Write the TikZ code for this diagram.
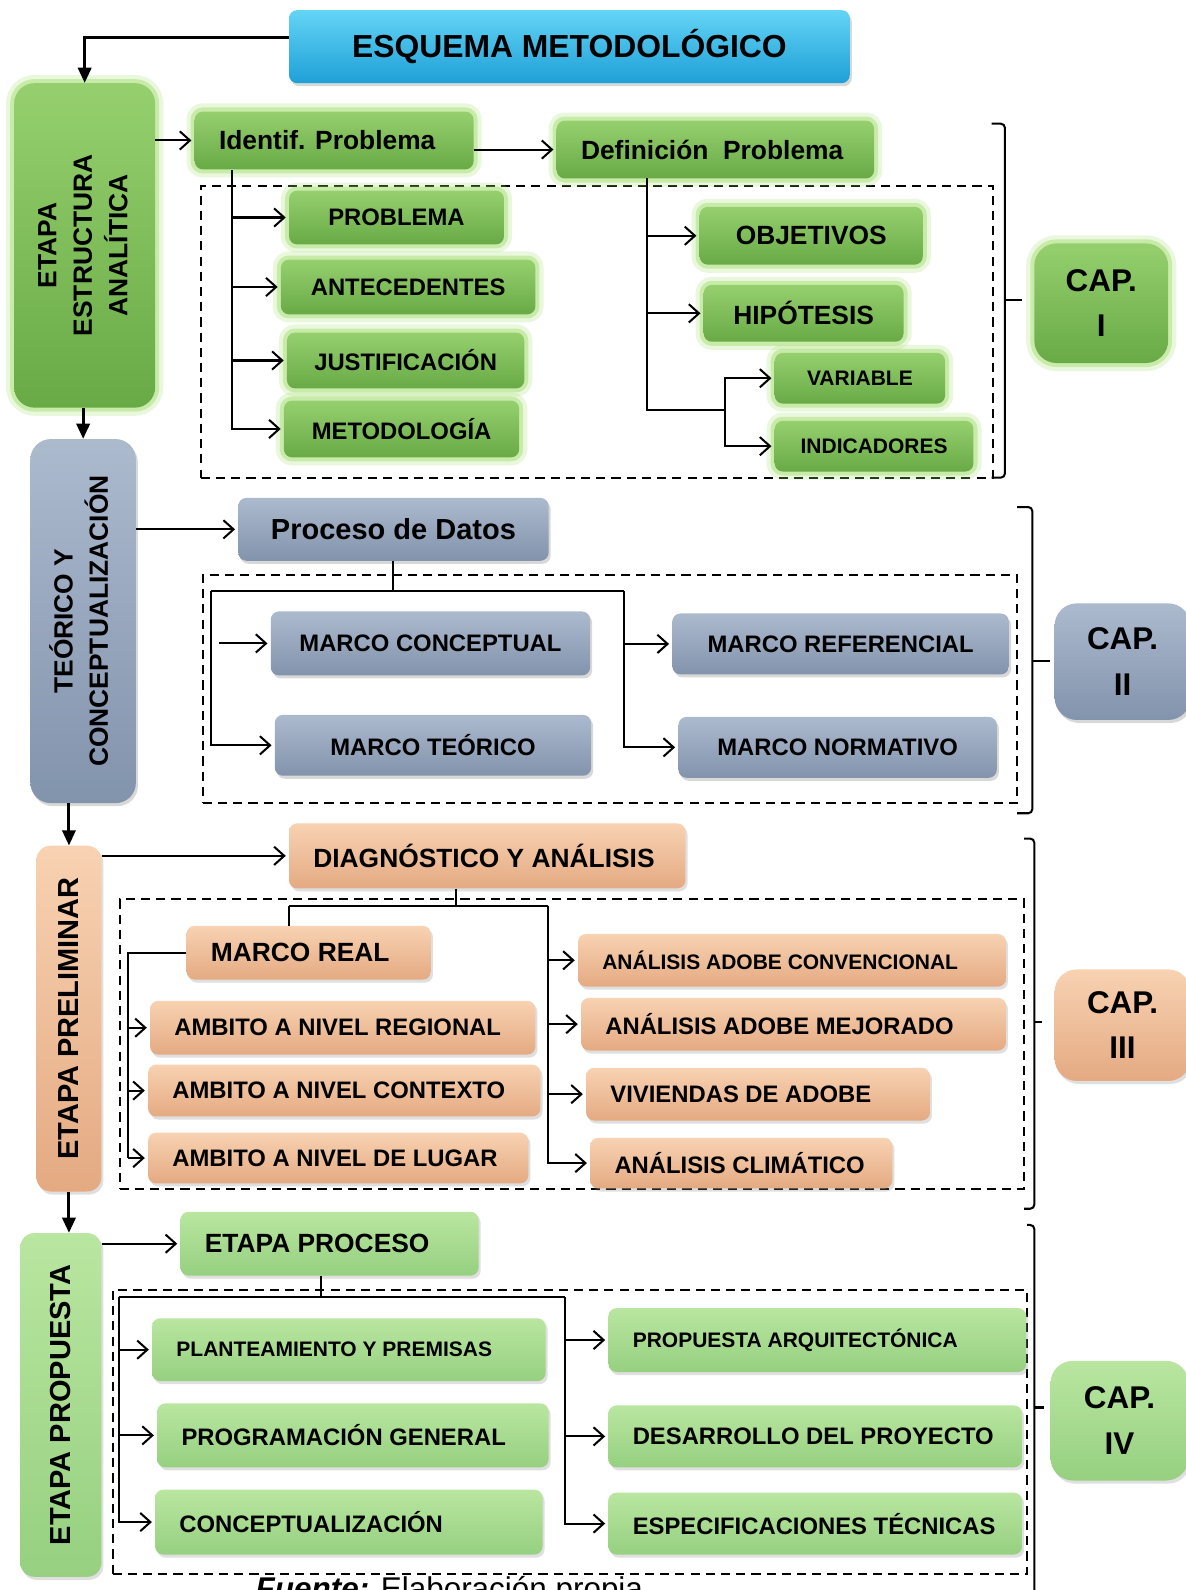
\documentclass[tikz,border=0pt]{standalone}
\usepackage{fontspec}
\usepackage{graphicx}
\setmainfont{Liberation Sans}
\usetikzlibrary{arrows.meta,shadows}

\definecolor{azulA}{RGB}{100,212,245}
\definecolor{azulB}{RGB}{30,160,215}
\definecolor{verdeA}{RGB}{150,208,110}
\definecolor{verdeB}{RGB}{104,170,70}
\definecolor{verdeGlow}{RGB}{170,225,120}
\definecolor{grisA}{RGB}{172,186,206}
\definecolor{grisB}{RGB}{130,147,172}
\definecolor{salmonA}{RGB}{248,210,178}
\definecolor{salmonB}{RGB}{228,170,130}
\definecolor{pastoA}{RGB}{185,230,160}
\definecolor{pastoB}{RGB}{150,208,128}

\newcommand{\letraTit}{\fontsize{31.4}{36}\selectfont\bfseries}
\newcommand{\letraX}{\fontsize{28.6}{34}\selectfont\bfseries}
\newcommand{\letraG}{\fontsize{26}{30}\selectfont\bfseries}
\newcommand{\letraM}{\fontsize{23.5}{28}\selectfont\bfseries}
\newcommand{\letraC}{\fontsize{20.7}{25}\selectfont\bfseries}
\newcommand{\letraLado}{\fontsize{26}{35}\selectfont\bfseries}
\newcommand{\letraCap}{\fontsize{31}{45}\selectfont\bfseries}
\newcommand{\izq}[2]{\makebox[#1][l]{#2}}

\begin{document}
\begin{tikzpicture}[x=1pt,y=-1pt]
	\tikzstyle{Caja} = [rectangle, rounded corners=8pt, inner sep=0pt, text centered]
	\tikzstyle{Titulo} = [Caja, top color=azulA, bottom color=azulB, drop shadow={opacity=0.3, shadow xshift=2pt, shadow yshift=-3pt}, font=\letraTit]
	\tikzstyle{Verde} = [Caja, top color=verdeA, bottom color=verdeB, preaction={draw=verdeGlow, line width=16pt, opacity=0.25}, preaction={draw=verdeGlow, line width=8pt, opacity=0.5}, font=\letraM]
	\tikzstyle{Gris} = [Caja, top color=grisA, bottom color=grisB, drop shadow={opacity=0.3, shadow xshift=2pt, shadow yshift=-3pt}, font=\letraM]
	\tikzstyle{Salmon} = [Caja, top color=salmonA, bottom color=salmonB, drop shadow={opacity=0.25, shadow xshift=2pt, shadow yshift=-3pt}, font=\letraM]
	\tikzstyle{Pasto} = [Caja, top color=pastoA, bottom color=pastoB, drop shadow={opacity=0.25, shadow xshift=2pt, shadow yshift=-3pt}, font=\letraM]
	\tikzstyle{Lado} = [rounded corners=20pt]
	\tikzstyle{Cap} = [rounded corners=22pt, font=\letraCap, align=center]
	\tikzstyle{Marco} = [rectangle, draw, line width=2pt, dash pattern=on 9pt off 6pt, inner sep=0pt]
	\tikzstyle{Linea} = [line width=2pt]
	\tikzstyle{Flecha} = [line width=2pt, -{Straight Barb[length=10pt,width=18pt]}, shorten >=3pt]
	\tikzstyle{FlechaG} = [line width=3pt, -{Triangle[length=15pt,width=13pt]}]
	\tikzstyle{Llave} = [line width=2pt, rounded corners=4pt]

	\path[use as bounding box, fill=white] (0,0) rectangle (1169,1568);

	% marcos punteados
	\node (caja1) [Marco, minimum width=781pt, minimum height=288pt] at (588.5,327) {};
	\node (caja2) [Marco, minimum width=803pt, minimum height=225pt] at (601.5,679.5) {};
	\node (caja3) [Marco, minimum width=892pt, minimum height=286pt] at (564,1030) {};
	\node (caja4) [Marco, minimum width=902pt, minimum height=280pt] at (562,1412) {};

	\node (titulo) [Titulo, minimum width=553pt, minimum height=72pt] at (561.5,46) {ESQUEMA METODOLÓGICO};

	% etapa estructura analitica
	\node (etapa1) [Verde, Lado, minimum width=139pt, minimum height=320pt, font=\letraLado] at (83.5,242) {\rotatebox{90}{\begin{tabular}{@{}c@{}}ETAPA\\ESTRUCTURA\\ANALÍTICA\end{tabular}}};
	\node (ident) [Verde, minimum width=275pt, minimum height=57pt, font=\letraG] at (329.5,138.5) {\izq{227pt}{Identif. Problema}};
	\node (defin) [Verde, minimum width=313pt, minimum height=57pt, font=\letraG] at (705.5,147.5) {\izq{265pt}{Definición\ \ Problema}};
	\node (prob) [Verde, minimum width=212pt, minimum height=53pt] at (391,214.5) {PROBLEMA};
	\node (ante) [Verde, minimum width=251pt, minimum height=54pt] at (402.5,283) {ANTECEDENTES};
	\node (just) [Verde, minimum width=234pt, minimum height=55pt] at (400,355.5) {JUSTIFICACIÓN};
	\node (meto) [Verde, minimum width=232pt, minimum height=56pt] at (396,423) {METODOLOGÍA};
	\node (obj) [Verde, minimum width=220pt, minimum height=57pt, font=\letraG] at (800,232.5) {OBJETIVOS};
	\node (hip) [Verde, minimum width=197pt, minimum height=56pt, font=\letraG] at (792.5,309) {HIPÓTESIS};
	\node (var) [Verde, minimum width=168pt, minimum height=50pt, font=\letraC] at (848,373) {VARIABLE};
	\node (ind) [Verde, minimum width=196pt, minimum height=50pt, font=\letraC] at (862,440) {INDICADORES};
	\node (cap1) [Verde, Cap, minimum width=132pt, minimum height=118pt] at (1086,299) {CAP.\\I};

	\draw[FlechaG] ([yshift=9pt]titulo.west) -| (etapa1.north);
	\draw[Flecha] (etapa1.east |- ident.west) -- (ident.west);
	\draw[Flecha] (ident.east |- defin.west) -- (defin.west);
	\coordinate (ra) at (229,168);
	\draw[Flecha] (ra) |- (meto.west);
	\foreach \n in {prob,ante,just} \draw[Flecha] (ra |- \n.west) -- (\n.west);
	\coordinate (rb) at (638,176);
	\coordinate (rc) at (715,404);
	\draw[Linea] (rb) |- (rc);
	\foreach \n in {obj,hip} \draw[Flecha] (rb |- \n.west) -- (\n.west);
	\draw[Flecha] (rc) |- (var.west);
	\draw[Flecha] (rc) |- (ind.west);
	\draw[Llave] (978,122) -- (991,122) -- (991,471) -- (978,471);
	\draw[Linea] (991,296) -- (1008,296);

	% teorico y conceptualizacion
	\node (etapa2) [Gris, Lado, minimum width=104pt, minimum height=359pt, font=\letraLado] at (82,612.5) {\rotatebox{90}{\begin{tabular}{@{}c@{}}TEÓRICO Y\\CONCEPTUALIZACIÓN\end{tabular}}};
	\node (proc) [Gris, minimum width=306pt, minimum height=62pt, font=\letraX] at (388,522) {Proceso de Datos};
	\node (mcon) [Gris, minimum width=315pt, minimum height=63pt] at (424.5,634.5) {MARCO CONCEPTUAL};
	\node (mteo) [Gris, minimum width=312pt, minimum height=60pt] at (427,735) {MARCO TEÓRICO};
	\node (mref) [Gris, minimum width=332pt, minimum height=60pt] at (829,635) {MARCO REFERENCIAL};
	\node (mnor) [Gris, minimum width=314pt, minimum height=60pt] at (826,737) {MARCO NORMATIVO};
	\node (cap2) [Gris, Cap, minimum width=134pt, minimum height=115pt] at (1107,652.5) {CAP.\\II};

	\draw[FlechaG] (etapa1.south -| etapa2.north) -- (etapa2.north);
	\draw[Flecha] (etapa2.east |- proc.west) -- (proc.west);
	\coordinate (rd) at (388,583);
	\coordinate (re) at (208,583);
	\coordinate (re2) at (216,583);
	\coordinate (rf) at (615,583);
	\draw[Linea] (proc.south) -- (rd);
	\draw[Linea] (re) -- (rf);
	\draw[Flecha] (re) |- (mteo.west);
	\draw[Flecha] (re2 |- mcon.west) -- (mcon.west);
	\draw[Flecha] (rf) |- (mnor.west);
	\draw[Flecha] (rf |- mref.west) -- (mref.west);
	\draw[Llave] (1003,500) -- (1018,500) -- (1018,802) -- (1003,802);
	\draw[Linea] (1018,652) -- (1035,652);

	% etapa preliminar
	\node (etapa3) [Salmon, Lado, rounded corners=14pt, minimum width=64pt, minimum height=341pt, font=\letraX] at (68,1004.5) {\rotatebox{90}{ETAPA PRELIMINAR}};
	\node (diag) [Salmon, minimum width=391pt, minimum height=64pt, font=\letraG] at (480.5,844) {\izq{343pt}{DIAGNÓSTICO Y ANÁLISIS}};
	\node (mreal) [Salmon, minimum width=241pt, minimum height=53pt, font=\letraG] at (304.5,939.5) {\izq{193pt}{MARCO REAL}};
	\node (reg) [Salmon, minimum width=380pt, minimum height=53pt] at (338,1013.5) {\izq{332pt}{AMBITO A NIVEL REGIONAL}};
	\node (cont) [Salmon, minimum width=387pt, minimum height=51pt] at (339.5,1075.5) {\izq{339pt}{AMBITO A NIVEL CONTEXTO}};
	\node (lug) [Salmon, minimum width=375pt, minimum height=50pt] at (333.5,1142) {\izq{327pt}{AMBITO A NIVEL DE LUGAR}};
	\node (conv) [Salmon, minimum width=422pt, minimum height=52pt, font=\letraC] at (781,947) {\izq{374pt}{ANÁLISIS ADOBE CONVENCIONAL}};
	\node (mejo) [Salmon, minimum width=419pt, minimum height=52pt] at (782.5,1010) {\izq{371pt}{ANÁLISIS ADOBE MEJORADO}};
	\node (viv) [Salmon, minimum width=339pt, minimum height=52pt] at (747.5,1079) {\izq{291pt}{VIVIENDAS DE ADOBE}};
	\node (clim) [Salmon, minimum width=298pt, minimum height=50pt] at (731,1147) {\izq{250pt}{ANÁLISIS CLIMÁTICO}};
	\node (cap3) [Salmon, Cap, minimum width=134pt, minimum height=110pt] at (1107,1011) {CAP.\\III};

	\draw[FlechaG] (etapa3.north |- etapa2.south) -- (etapa3.north);
	\draw[Flecha] (etapa3.east |- diag.west) -- (diag.west);
	\coordinate (rg) at (450,893);
	\coordinate (rh) at (285,893);
	\coordinate (ri) at (540,893);
	\coordinate (rj) at (126,1142);
	\draw[Linea] (rg |- diag.south) -- (rg);
	\draw[Linea] (rh) -- (ri);
	\draw[Linea] (rh) -- (rh |- mreal.north);
	\draw[Linea] (mreal.west) -| (rj);
	\foreach \n in {reg,cont,lug} \draw[Flecha] (rj |- \n.west) -- (\n.west);
	\draw[Flecha] (ri) |- (clim.west);
	\foreach \n in {conv,mejo,viv} \draw[Flecha] (ri |- \n.west) -- (\n.west);
	\draw[Llave] (1010,827) -- (1020,827) -- (1020,1192) -- (1010,1192);
	\draw[Linea] (1020,1008) -- (1028,1008);

	% etapa propuesta
	\node (etapa4) [Pasto, Lado, rounded corners=14pt, minimum width=80pt, minimum height=339pt, font=\letraX] at (60,1385.5) {\rotatebox{90}{ETAPA PROPUESTA}};
	\node (proceso) [Pasto, minimum width=294pt, minimum height=63pt, font=\letraG] at (325,1226.5) {\izq{246pt}{ETAPA PROCESO}};
	\node (plan) [Pasto, minimum width=388pt, minimum height=62pt, font=\letraC] at (344,1331) {\izq{340pt}{PLANTEAMIENTO Y PREMISAS}};
	\node (prog) [Pasto, minimum width=386pt, minimum height=63pt] at (348,1415.5) {\izq{338pt}{PROGRAMACIÓN GENERAL}};
	\node (conc) [Pasto, minimum width=382pt, minimum height=64pt] at (344,1501) {\izq{334pt}{CONCEPTUALIZACIÓN}};
	\node (prop) [Pasto, minimum width=412pt, minimum height=63pt, font=\letraC] at (806,1321.5) {\izq{364pt}{PROPUESTA ARQUITECTÓNICA}};
	\node (des) [Pasto, minimum width=408pt, minimum height=61pt] at (804,1416.5) {\izq{360pt}{DESARROLLO DEL PROYECTO}};
	\node (esp) [Pasto, minimum width=408pt, minimum height=61pt] at (804,1502.5) {\izq{360pt}{ESPECIFICACIONES TÉCNICAS}};
	\node (cap4) [Pasto, Cap, minimum width=136pt, minimum height=118pt] at (1104,1401) {CAP.\\IV};

	\draw[FlechaG] (etapa3.south) -- (etapa3.south |- etapa4.north);
	\draw[Flecha] (etapa4.east |- proceso.west) -- (proceso.west);
	\coordinate (rk) at (317,1279);
	\coordinate (rl) at (117,1279);
	\coordinate (rm) at (557,1279);
	\draw[Linea] (rk |- proceso.south) -- (rk);
	\draw[Linea] (rl) -- (rm);
	\draw[Flecha] (rl) |- (conc.west);
	\foreach \n in {plan,prog} \draw[Flecha] (rl |- \n.west) -- (\n.west);
	\draw[Flecha] (rm) |- (esp.west);
	\foreach \n in {prop,des} \draw[Flecha] (rm |- \n.west) -- (\n.west);
	\draw[Llave] (1013,1208) -- (1020,1208) -- (1020,1600);
	\draw[Linea] (1020,1388) -- (1030,1388);

	\node (fuente) [anchor=base west, inner sep=0pt, font=\fontsize{31}{36}\selectfont] at (252,1577) {\textbf{\textit{Fuente:}} Elaboración propia};
\end{tikzpicture}
\end{document}
